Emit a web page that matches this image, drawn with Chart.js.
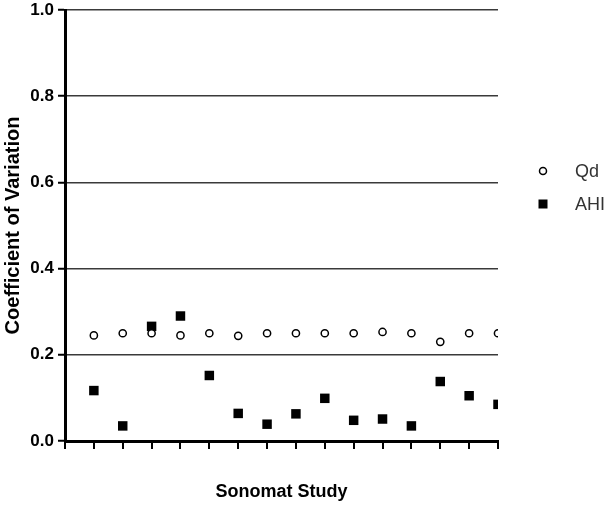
<!DOCTYPE html>
<html>
<head>
<meta charset="utf-8">
<script src="https://cdn.jsdelivr.net/npm/chart.js@4.4.0/dist/chart.umd.min.js"></script>
<style>
  html, body { margin: 0; padding: 0; background: #fff; }
  #wrap { width: 604px; height: 505px; }
</style>
</head>
<body>
<div id="wrap"><canvas id="myChart" width="604" height="505"></canvas></div>
<script>
const studies = [1, 2, 3, 4, 5, 6, 7, 8, 9, 10, 11, 12, 13, 14, 15];
const qdValues = [0.245, 0.25, 0.25, 0.245, 0.25, 0.244, 0.25, 0.25, 0.25, 0.25, 0.253, 0.25, 0.23, 0.25, 0.25];
const ahiValues = [0.117, 0.035, 0.266, 0.29, 0.152, 0.064, 0.039, 0.063, 0.099, 0.048, 0.051, 0.035, 0.138, 0.105, 0.085];
const yTicks = [0, 0.2, 0.4, 0.6, 0.8, 1.0];

const FONT = '"Liberation Sans", Arial, sans-serif';

// legend drawn by hand, to the right of the plot
const sideLegend = {
    id: 'sideLegend',
    afterDraw(chart) {
        const ctx = chart.ctx;
        ctx.save();
        ctx.font = '18px ' + FONT;
        ctx.textBaseline = 'middle';
        // Qd
        ctx.beginPath();
        ctx.arc(543, 171, 3.5, 0, Math.PI * 2);
        ctx.fillStyle = '#fff';
        ctx.fill();
        ctx.lineWidth = 1.5;
        ctx.strokeStyle = '#000';
        ctx.stroke();
        ctx.fillStyle = '#333';
        ctx.fillText('Qd', 575, 172);
        // AHI
        ctx.fillStyle = '#000';
        ctx.fillRect(538.5, 199.5, 9, 9);
        ctx.fillStyle = '#333';
        ctx.fillText('AHI', 575, 205);
        ctx.restore();
    }
};

new Chart(document.getElementById('myChart'), {
    type: 'scatter',
    data: {
        datasets: [
            {
                label: 'Qd',
                data: studies.map((s, i) => ({ x: s, y: qdValues[i] })),
                pointStyle: 'circle',
                radius: 3.6,
                borderWidth: 1.5,
                borderColor: '#000',
                backgroundColor: '#fff'
            },
            {
                label: 'AHI',
                data: studies.map((s, i) => ({ x: s, y: ahiValues[i] })),
                pointStyle: 'rect',
                radius: 6.7,
                borderWidth: 0,
                backgroundColor: '#000'
            }
        ]
    },
    options: {
        responsive: false,
        animation: false,
        layout: { padding: { top: 10, right: 106, left: 0, bottom: 0 } },
        plugins: {
            legend: { display: false },
            tooltip: { enabled: false }
        },
        scales: {
            x: {
                type: 'linear',
                min: 0,
                max: 15,
                afterBuildTicks: (scale) => { scale.ticks = [0].concat(studies).map(v => ({ value: v })); },
                afterFit: (scale) => { scale.height = 64; },
                ticks: { display: false },
                grid: {
                    drawOnChartArea: false,
                    drawTicks: true,
                    tickLength: 8,
                    color: '#000',
                    lineWidth: 2
                },
                border: { display: true, color: '#000', width: 3 },
                title: {
                    display: true,
                    text: 'Sonomat Study',
                    color: '#000',
                    font: { family: FONT, size: 18, weight: 'bold' },
                    padding: { top: 0, bottom: 2 }
                }
            },
            y: {
                min: 0,
                max: 1,
                afterBuildTicks: (scale) => { scale.ticks = yTicks.map(v => ({ value: v })); },
                afterFit: (scale) => {
                    scale.width = 65;
                    scale.paddingTop = 0;
                    scale.paddingBottom = 0;
                },
                ticks: {
                    color: '#000',
                    padding: 4,
                    font: { family: FONT, size: 17, weight: 'bold' },
                    callback: (v) => v.toFixed(1)
                },
                grid: {
                    color: '#3a3a3a',
                    lineWidth: 1.5,
                    tickLength: 7,
                    tickColor: '#000',
                    tickWidth: 2
                },
                border: { display: true, color: '#000', width: 3 },
                title: {
                    display: true,
                    text: 'Coefficient of Variation',
                    color: '#000',
                    font: { family: FONT, size: 20, weight: 'bold' },
                    padding: { top: 1, bottom: 0 }
                }
            }
        }
    },
    plugins: [sideLegend]
});
</script>
</body>
</html>
